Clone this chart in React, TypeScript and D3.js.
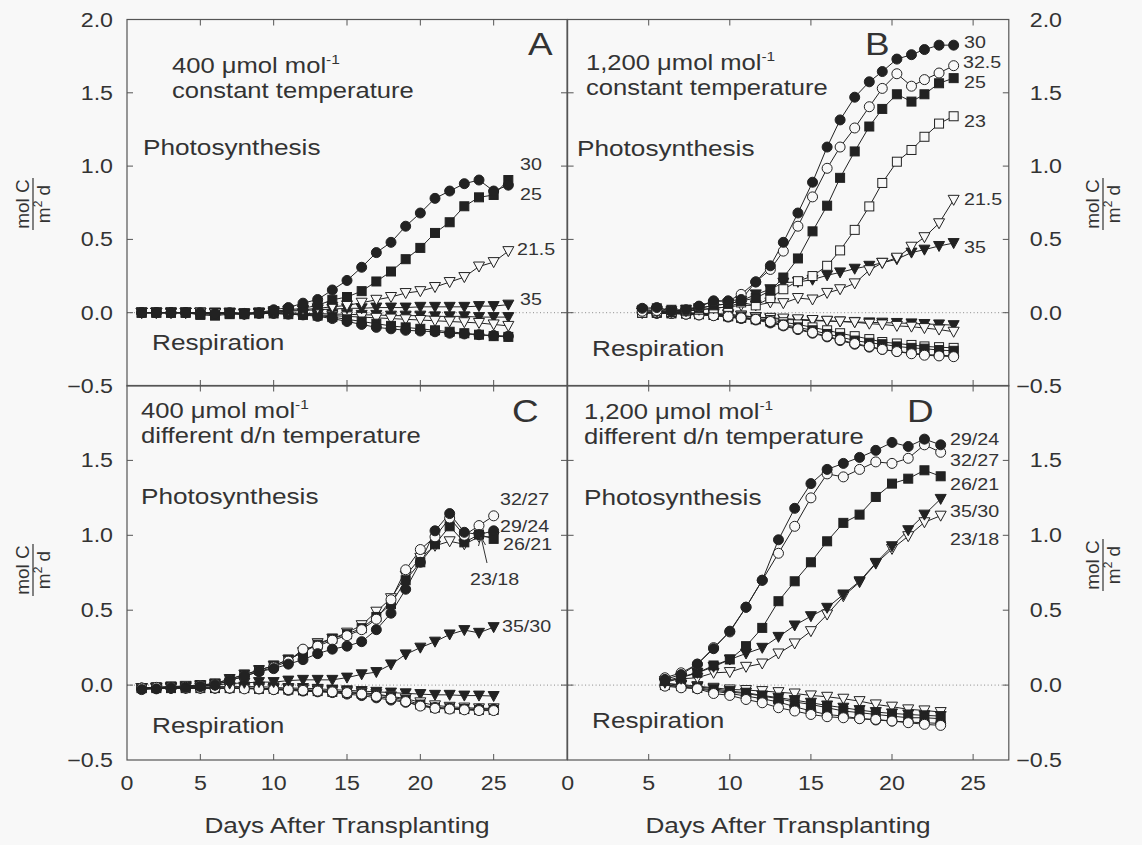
import React from 'react';
import * as d3 from 'd3';

const FONT = "'Liberation Sans', Arial, Helvetica, sans-serif";
const BG = '#f8f8f8';
const INK = '#222';
const FRAME = '#555';
const TXT = '#333';
const SX = 1.19;

// ---------------- data ----------------
const daysA = [1,2,3,4,5,6,7,8,9,10,11,12,13,14,15,16,17,18,19,20,21,22,23,24,25,26];
const daysB = [4.6,5.5,6.4,7.3,8.1,9.0,9.9,10.7,11.6,12.5,13.3,14.2,15.1,16.0,16.8,17.7,18.6,19.4,20.3,21.2,22.0,22.9,23.8];
const daysC = [1,2,3,4,5,6,7,8,9,10,11,12,13,14,15,16,17,18,19,20,21,22,23,24,25];
const daysD = [6,7,8,9,10,11,12,13,14,15,16,17,18,19,20,21,22,23];

// Panel A: 400 umol/mol, constant temperature
const A_photo_30 = [0,0,0,0,0,-0.005,0,-0.005,0,0.02,0.035,0.065,0.09,0.155,0.22,0.31,0.41,0.48,0.59,0.68,0.78,0.83,0.88,0.905,0.83,0.87];
const A_photo_25 = [0,0,0,0,-0.015,-0.02,-0.01,-0.005,0,0.01,0.02,0.03,0.05,0.088,0.107,0.147,0.213,0.281,0.365,0.442,0.544,0.617,0.726,0.787,0.803,0.905];
const A_photo_215 = [0,0,0,0,0,-0.005,-0.005,-0.01,-0.005,0.01,0.015,0.02,0.03,0.04,0.05,0.068,0.088,0.107,0.134,0.147,0.175,0.209,0.243,0.315,0.345,0.42];
const A_photo_35 = [0,0,0,0,0,0,0,-0.005,0,0.005,0.01,0.015,0.02,0.025,0.03,0.03,0.035,0.035,0.035,0.04,0.04,0.04,0.04,0.045,0.045,0.055];
const A_resp_30 = [0,0,0,0,-0.005,-0.01,-0.005,-0.01,-0.005,-0.005,-0.01,-0.015,-0.025,-0.04,-0.06,-0.08,-0.1,-0.11,-0.12,-0.125,-0.13,-0.14,-0.145,-0.15,-0.155,-0.16];
const A_resp_25 = [0,0,0,0,-0.01,-0.01,-0.005,-0.01,-0.005,-0.005,-0.01,-0.015,-0.02,-0.03,-0.045,-0.06,-0.075,-0.09,-0.1,-0.11,-0.12,-0.13,-0.14,-0.15,-0.16,-0.165];
const A_resp_215 = [0,0,0,0,0,-0.005,-0.005,-0.01,-0.005,0,-0.005,-0.01,-0.015,-0.02,-0.025,-0.03,-0.035,-0.04,-0.045,-0.05,-0.055,-0.06,-0.065,-0.07,-0.08,-0.09];
const A_resp_35 = [0,0,0,0,0,0,0,-0.005,0,0,0,-0.005,-0.005,-0.01,-0.01,-0.015,-0.015,-0.02,-0.02,-0.02,-0.025,-0.025,-0.025,-0.03,-0.03,-0.03];

// Panel B: 1,200 umol/mol, constant temperature
const B_photo_30 = [0.03,0.035,0.01,0.02,0.045,0.08,0.08,0.09,0.21,0.32,0.48,0.68,0.89,1.13,1.315,1.47,1.575,1.645,1.73,1.76,1.795,1.825,1.825];
const B_photo_325 = [0.01,0.015,0.01,0.015,0.04,0.08,0.08,0.125,0.21,0.295,0.42,0.59,0.79,0.985,1.13,1.26,1.405,1.53,1.63,1.545,1.59,1.635,1.685];
const B_photo_25 = [0.02,0.03,0.02,0.02,0.03,0.05,0.06,0.08,0.1,0.15,0.24,0.37,0.555,0.73,0.92,1.1,1.27,1.39,1.49,1.44,1.49,1.565,1.6];
const B_photo_23 = [0,0.01,0.005,0.01,0.02,0.03,0.04,0.07,0.05,0.1,0.16,0.215,0.25,0.32,0.425,0.565,0.725,0.885,1.03,1.11,1.2,1.29,1.34];
const B_photo_215 = [0,0.005,0,0.01,0.02,0.03,0.04,0.05,0.05,0.07,0.065,0.1,0.09,0.135,0.16,0.2,0.29,0.34,0.375,0.45,0.515,0.61,0.77];
const B_photo_35 = [0.01,0.015,0.01,0.02,0.03,0.05,0.06,0.08,0.125,0.16,0.205,0.21,0.225,0.255,0.275,0.3,0.32,0.34,0.365,0.41,0.43,0.455,0.475];
const B_resp_30 = [0,-0.005,-0.005,-0.01,-0.015,-0.02,-0.03,-0.04,-0.05,-0.07,-0.09,-0.115,-0.14,-0.165,-0.19,-0.215,-0.235,-0.25,-0.265,-0.275,-0.285,-0.29,-0.295];
const B_resp_325 = [0,0,-0.005,-0.01,-0.015,-0.02,-0.025,-0.035,-0.045,-0.06,-0.085,-0.11,-0.135,-0.16,-0.185,-0.21,-0.23,-0.25,-0.265,-0.28,-0.29,-0.295,-0.3];
const B_resp_25 = [0,0,-0.005,-0.005,-0.01,-0.015,-0.025,-0.035,-0.045,-0.06,-0.08,-0.1,-0.12,-0.145,-0.165,-0.19,-0.205,-0.215,-0.23,-0.24,-0.245,-0.255,-0.26];
const B_resp_23 = [0,0,0,-0.005,-0.01,-0.015,-0.02,-0.03,-0.04,-0.05,-0.065,-0.08,-0.1,-0.12,-0.14,-0.16,-0.18,-0.2,-0.21,-0.22,-0.23,-0.235,-0.24];
const B_resp_215 = [0,0,0,0,-0.005,-0.01,-0.015,-0.02,-0.03,-0.035,-0.04,-0.045,-0.05,-0.055,-0.06,-0.065,-0.075,-0.08,-0.09,-0.095,-0.105,-0.115,-0.13];
const B_resp_35 = [0,0,0,0,-0.005,-0.005,-0.01,-0.02,-0.03,-0.04,-0.045,-0.05,-0.055,-0.057,-0.06,-0.063,-0.066,-0.068,-0.07,-0.073,-0.077,-0.08,-0.085];

// Panel C: 400 umol/mol, different day/night temperature
const C_photo_3227 = [-0.02,-0.015,-0.015,-0.01,-0.005,0.005,0.03,0.06,0.09,0.12,0.16,0.24,0.26,0.3,0.33,0.37,0.44,0.57,0.77,0.905,0.99,1.115,1.0,1.065,1.13];
const C_photo_2924 = [-0.03,-0.025,-0.02,-0.015,-0.01,0,0.03,0.06,0.09,0.11,0.14,0.17,0.21,0.24,0.26,0.29,0.37,0.48,0.64,0.82,1.03,1.145,1.02,1.005,1.03];
const C_photo_2621 = [-0.02,-0.015,-0.01,-0.01,0,0.01,0.04,0.07,0.1,0.13,0.17,0.22,0.27,0.31,0.34,0.38,0.455,0.54,0.7,0.82,0.94,1.06,0.953,1.005,0.976];
const C_photo_2318 = [-0.02,-0.015,-0.01,-0.005,0,0.01,0.04,0.07,0.1,0.13,0.17,0.22,0.28,0.31,0.35,0.4,0.49,0.58,0.73,0.85,0.93,0.96,0.94,0.99,0.99];
const C_photo_3530 = [-0.02,-0.02,-0.015,-0.01,-0.005,0,0.01,0.015,0.02,0.02,0.03,0.035,0.035,0.035,0.05,0.072,0.087,0.138,0.205,0.25,0.29,0.338,0.367,0.349,0.387];
const C_resp_3227 = [-0.02,-0.02,-0.02,-0.02,-0.02,-0.02,-0.02,-0.025,-0.025,-0.03,-0.03,-0.035,-0.04,-0.045,-0.05,-0.06,-0.075,-0.09,-0.11,-0.14,-0.155,-0.16,-0.165,-0.17,-0.17];
const C_resp_2924 = [-0.02,-0.02,-0.02,-0.02,-0.02,-0.02,-0.02,-0.02,-0.025,-0.03,-0.035,-0.04,-0.045,-0.05,-0.06,-0.07,-0.085,-0.1,-0.115,-0.135,-0.15,-0.155,-0.16,-0.16,-0.16];
const C_resp_2621 = [-0.02,-0.02,-0.02,-0.02,-0.02,-0.02,-0.02,-0.02,-0.025,-0.025,-0.03,-0.035,-0.04,-0.045,-0.05,-0.055,-0.065,-0.08,-0.1,-0.13,-0.15,-0.155,-0.16,-0.165,-0.165];
const C_resp_2318 = [-0.02,-0.02,-0.02,-0.02,-0.02,-0.02,-0.02,-0.02,-0.02,-0.025,-0.025,-0.03,-0.035,-0.04,-0.045,-0.05,-0.06,-0.075,-0.09,-0.115,-0.135,-0.145,-0.15,-0.155,-0.155];
const C_resp_3530 = [-0.02,-0.02,-0.02,-0.015,-0.015,-0.01,-0.01,-0.01,-0.01,-0.015,-0.02,-0.02,-0.025,-0.03,-0.035,-0.04,-0.045,-0.05,-0.055,-0.06,-0.065,-0.065,-0.07,-0.07,-0.073];

// Panel D: 1,200 umol/mol, different day/night temperature
const D_photo_2924 = [0.038,0.07,0.14,0.243,0.36,0.52,0.7,0.97,1.18,1.345,1.44,1.48,1.52,1.567,1.62,1.593,1.642,1.604];
const D_photo_3227 = [0.049,0.082,0.14,0.25,0.355,0.52,0.7,0.88,1.06,1.25,1.41,1.39,1.44,1.49,1.48,1.514,1.604,1.554];
const D_photo_2621 = [0.027,0.056,0.082,0.131,0.171,0.26,0.382,0.56,0.693,0.82,0.96,1.083,1.138,1.256,1.345,1.378,1.434,1.394];
const D_photo_3530 = [0.016,0.049,0.082,0.122,0.171,0.211,0.249,0.322,0.398,0.46,0.516,0.605,0.693,0.816,0.927,1.034,1.138,1.243];
const D_photo_2318 = [0.027,0.042,0.049,0.082,0.087,0.122,0.144,0.211,0.278,0.36,0.471,0.593,0.687,0.811,0.909,0.994,1.087,1.131];
const D_resp_3227 = [-0.007,-0.018,-0.024,-0.056,-0.069,-0.096,-0.118,-0.151,-0.173,-0.196,-0.211,-0.218,-0.224,-0.229,-0.24,-0.251,-0.262,-0.269];
const D_resp_2924 = [-0.002,-0.011,-0.024,-0.04,-0.056,-0.073,-0.091,-0.113,-0.144,-0.173,-0.196,-0.207,-0.224,-0.233,-0.24,-0.247,-0.251,-0.256];
const D_resp_2621 = [0,-0.007,-0.018,-0.033,-0.047,-0.056,-0.073,-0.091,-0.113,-0.129,-0.151,-0.173,-0.184,-0.196,-0.207,-0.218,-0.218,-0.224];
const D_resp_3530 = [0.011,-0.002,-0.011,-0.024,-0.04,-0.051,-0.069,-0.084,-0.1,-0.118,-0.136,-0.151,-0.167,-0.18,-0.189,-0.196,-0.202,-0.207];
const D_resp_2318 = [0.011,0.004,-0.007,-0.018,-0.029,-0.033,-0.04,-0.047,-0.056,-0.069,-0.078,-0.091,-0.107,-0.129,-0.144,-0.162,-0.169,-0.18];

const xTickValues = [0, 5, 10, 15, 20, 25];
const yTickValuesTop = [-0.5, 0, 0.5, 1, 1.5, 2];
const yTickValuesBottom = [-0.5, 0, 0.5, 1, 1.5];

type Kind = 'fc' | 'oc' | 'fs' | 'os' | 'ft' | 'ot';
interface S { days: number[]; values: number[]; kind: Kind }

const seriesA: S[] = [
  { days: daysA, values: A_resp_35, kind: 'ft' },
  { days: daysA, values: A_resp_215, kind: 'ot' },
  { days: daysA, values: A_resp_25, kind: 'fs' },
  { days: daysA, values: A_resp_30, kind: 'fc' },
  { days: daysA, values: A_photo_35, kind: 'ft' },
  { days: daysA, values: A_photo_215, kind: 'ot' },
  { days: daysA, values: A_photo_25, kind: 'fs' },
  { days: daysA, values: A_photo_30, kind: 'fc' },
];
const seriesB: S[] = [
  { days: daysB, values: B_resp_35, kind: 'ft' },
  { days: daysB, values: B_resp_215, kind: 'ot' },
  { days: daysB, values: B_resp_23, kind: 'os' },
  { days: daysB, values: B_resp_25, kind: 'fs' },
  { days: daysB, values: B_resp_30, kind: 'fc' },
  { days: daysB, values: B_resp_325, kind: 'oc' },
  { days: daysB, values: B_photo_35, kind: 'ft' },
  { days: daysB, values: B_photo_215, kind: 'ot' },
  { days: daysB, values: B_photo_23, kind: 'os' },
  { days: daysB, values: B_photo_25, kind: 'fs' },
  { days: daysB, values: B_photo_325, kind: 'oc' },
  { days: daysB, values: B_photo_30, kind: 'fc' },
];
const seriesC: S[] = [
  { days: daysC, values: C_resp_3530, kind: 'ft' },
  { days: daysC, values: C_resp_2318, kind: 'ot' },
  { days: daysC, values: C_resp_2621, kind: 'fs' },
  { days: daysC, values: C_resp_2924, kind: 'fc' },
  { days: daysC, values: C_resp_3227, kind: 'oc' },
  { days: daysC, values: C_photo_3530, kind: 'ft' },
  { days: daysC, values: C_photo_2318, kind: 'ot' },
  { days: daysC, values: C_photo_2621, kind: 'fs' },
  { days: daysC, values: C_photo_3227, kind: 'oc' },
  { days: daysC, values: C_photo_2924, kind: 'fc' },
];
const seriesD: S[] = [
  { days: daysD, values: D_resp_2318, kind: 'ot' },
  { days: daysD, values: D_resp_3530, kind: 'ft' },
  { days: daysD, values: D_resp_2621, kind: 'fs' },
  { days: daysD, values: D_resp_2924, kind: 'fc' },
  { days: daysD, values: D_resp_3227, kind: 'oc' },
  { days: daysD, values: D_photo_2318, kind: 'ot' },
  { days: daysD, values: D_photo_3530, kind: 'ft' },
  { days: daysD, values: D_photo_2621, kind: 'fs' },
  { days: daysD, values: D_photo_3227, kind: 'oc' },
  { days: daysD, values: D_photo_2924, kind: 'fc' },
];

// ---------------- layout ----------------
const xLeft = d3.scaleLinear().domain([0, 30]).range([127, 567]);
const xRight = d3.scaleLinear().domain([0, 27.2]).range([567.6, 1008.8]);
const yTop = d3.scaleLinear().domain([-0.5, 2]).range([386, 19.5]);
const yBot = d3.scaleLinear().domain([-0.5, 2]).range([760, 385.5]);

type Lin = d3.ScaleLinear<number, number>;

function T({ x, y, size = 21, anchor = 'start', sx = SX, children }: any) {
  return (
    <text
      transform={`translate(${x},${y}) scale(${sx},1)`}
      fontSize={size}
      textAnchor={anchor}
      fontFamily={FONT}
      fill={TXT}
    >
      {children}
    </text>
  );
}

function Marker({ kind, x, y }: { kind: Kind; x: number; y: number }) {
  const filled = kind[0] === 'f';
  const fill = filled ? INK : BG;
  const shape = kind[1];
  if (shape === 'c') return <circle cx={x} cy={y} r={5} fill={fill} stroke={INK} strokeWidth={1} />;
  if (shape === 's') return <rect x={x - 4.5} y={y - 4.5} width={9} height={9} fill={fill} stroke={INK} strokeWidth={1} />;
  return <path d={`M${x - 5.5},${y - 4.5}L${x + 5.5},${y - 4.5}L${x},${y + 5.5}Z`} fill={fill} stroke={INK} strokeWidth={1} />;
}

function Panel({ x, y, series }: { x: Lin; y: Lin; series: S[] }) {
  const [x0, x1] = x.range();
  const [y0, y1] = y.range();
  const line = (s: S) =>
    d3.line<number>()
      .x((_, i) => x(s.days[i]))
      .y((v) => y(v))(s.values) || '';
  const tick = 6;
  return (
    <g>
      <line x1={x0} x2={x1} y1={y(0)} y2={y(0)} stroke="#8a8a8a" strokeWidth={1} strokeDasharray="1,2.5" />
      {series.map((s, i) => (
        <path key={'l' + i} d={line(s)} fill="none" stroke={INK} strokeWidth={1} />
      ))}
      {series.map((s, i) => (
        <g key={'m' + i}>
          {s.values.map((v, j) => (
            <Marker key={j} kind={s.kind} x={x(s.days[j])} y={y(v)} />
          ))}
        </g>
      ))}
      <rect x={x0} y={y1} width={x1 - x0} height={y0 - y1} fill="none" stroke={FRAME} strokeWidth={1.2} />
      {xTickValues.filter((t) => t > 0).map((t) => (
        <g key={'xt' + t}>
          <line x1={x(t)} x2={x(t)} y1={y0} y2={y0 - tick} stroke={FRAME} strokeWidth={1} />
          <line x1={x(t)} x2={x(t)} y1={y1} y2={y1 + tick} stroke={FRAME} strokeWidth={1} />
        </g>
      ))}
      {[0, 0.5, 1, 1.5].map((t) => (
        <g key={'yt' + t}>
          <line x1={x0} x2={x0 + tick} y1={y(t)} y2={y(t)} stroke={FRAME} strokeWidth={1} />
          <line x1={x1} x2={x1 - tick} y1={y(t)} y2={y(t)} stroke={FRAME} strokeWidth={1} />
        </g>
      ))}
    </g>
  );
}

function Title({ x, y, co2, line2 }: { x: number; y: number; co2: string; line2: string }) {
  return (
    <g>
      <text transform={`translate(${x},${y}) scale(${SX},1)`} fontSize={21.5} fontFamily={FONT} fill={TXT}>
        {co2} μmol mol
        <tspan dy={-9} fontSize={13}>-1</tspan>
      </text>
      <T x={x} y={y + 25} size={21.5}>{line2}</T>
    </g>
  );
}

function Fraction({ cx, cy }: { cx: number; cy: number }) {
  return (
    <g transform={`translate(${cx},${cy}) rotate(-90)`}>
      <text x={0} y={-4} fontSize={19} textAnchor="middle" fontFamily={FONT} fill={TXT}>mol C</text>
      <line x1={-26} x2={26} y1={0} y2={0} stroke={TXT} strokeWidth={1.2} />
      <text x={0} y={17} fontSize={19} textAnchor="middle" fontFamily={FONT} fill={TXT}>
        m<tspan dy={-8} fontSize={12}>2</tspan><tspan dy={8}> d</tspan>
      </text>
    </g>
  );
}

export default function App() {
  const fmt = d3.format('.1f');
  return (
    <svg
      width={1142}
      height={845}
      viewBox="0 0 1142 845"
      style={{ position: 'absolute', left: 0, top: 0, background: BG }}
    >
      <rect x={0} y={0} width={1142} height={845} fill={BG} />
      <Panel x={xLeft} y={yTop} series={seriesA} />
      <Panel x={xRight} y={yTop} series={seriesB} />
      <Panel x={xLeft} y={yBot} series={seriesC} />
      <Panel x={xRight} y={yBot} series={seriesD} />

      {yTickValuesTop.map((t) => (
        <g key={'ylt' + t}>
          <T x={113} y={yTop(t) + 7} size={19.5} anchor="end">{fmt(t)}</T>
          <T x={1062} y={yTop(t) + 7} size={19.5} anchor="end">{fmt(t)}</T>
        </g>
      ))}
      {yTickValuesBottom.map((t) => (
        <g key={'ylb' + t}>
          <T x={113} y={yBot(t) + 7} size={19.5} anchor="end">{fmt(t)}</T>
          <T x={1062} y={yBot(t) + 7} size={19.5} anchor="end">{fmt(t)}</T>
        </g>
      ))}
      {xTickValues.map((t) => (
        <g key={'xl' + t}>
          <T x={xLeft(t)} y={790} size={19.5} anchor="middle">{String(t)}</T>
          <T x={xRight(t)} y={790} size={19.5} anchor="middle">{String(t)}</T>
        </g>
      ))}
      <T x={347} y={833} size={22} anchor="middle">Days After Transplanting</T>
      <T x={788} y={833} size={22} anchor="middle">Days After Transplanting</T>

      <Fraction cx={33} cy={204} />
      <Fraction cx={33} cy={570} />
      <Fraction cx={1103} cy={204} />
      <Fraction cx={1103} cy={565} />

      {/* Panel A */}
      <Title x={172} y={73} co2="400" line2="constant temperature" />
      <T x={528} y={55} size={31}>A</T>
      <T x={143} y={155} size={22}>Photosynthesis</T>
      <T x={152} y={350} size={22}>Respiration</T>
      <T x={520} y={170} size={16.5}>30</T>
      <T x={520} y={200} size={16.5}>25</T>
      <T x={517} y={255} size={16.5}>21.5</T>
      <T x={520} y={305} size={16.5}>35</T>

      {/* Panel B */}
      <Title x={586} y={70} co2="1,200" line2="constant temperature" />
      <T x={865} y={55} size={31}>B</T>
      <T x={577} y={156} size={22}>Photosynthesis</T>
      <T x={592} y={356} size={22}>Respiration</T>
      <T x={964} y={48} size={16.5}>30</T>
      <T x={963} y={68} size={16.5}>32.5</T>
      <T x={964} y={88} size={16.5}>25</T>
      <T x={964} y={127} size={16.5}>23</T>
      <T x={964} y={205} size={16.5}>21.5</T>
      <T x={964} y={253} size={16.5}>35</T>

      {/* Panel C */}
      <Title x={141} y={418} co2="400" line2="different d/n temperature" />
      <T x={512} y={422} size={31}>C</T>
      <T x={141} y={504} size={22}>Photosynthesis</T>
      <T x={152} y={733} size={22}>Respiration</T>
      <T x={500} y={505} size={16.5}>32/27</T>
      <T x={500} y={532} size={16.5}>29/24</T>
      <T x={503} y={550} size={16.5}>26/21</T>
      <T x={470} y={585} size={16.5}>23/18</T>
      <T x={502} y={632} size={16.5}>35/30</T>
      <g stroke={TXT} strokeWidth={1} fill="none">
        <line x1={487} y1={563} x2={481} y2={537} />
        <polyline points="478.5,546 481,537 485.5,545" />
      </g>

      {/* Panel D */}
      <Title x={584} y={419} co2="1,200" line2="different d/n temperature" />
      <T x={907} y={422} size={31}>D</T>
      <T x={584} y={505} size={22}>Photosynthesis</T>
      <T x={592} y={728} size={22}>Respiration</T>
      <T x={950} y={445} size={16.5}>29/24</T>
      <T x={950} y={466} size={16.5}>32/27</T>
      <T x={950} y={490} size={16.5}>26/21</T>
      <T x={950} y={517} size={16.5}>35/30</T>
      <T x={950} y={545} size={16.5}>23/18</T>
    </svg>
  );
}
